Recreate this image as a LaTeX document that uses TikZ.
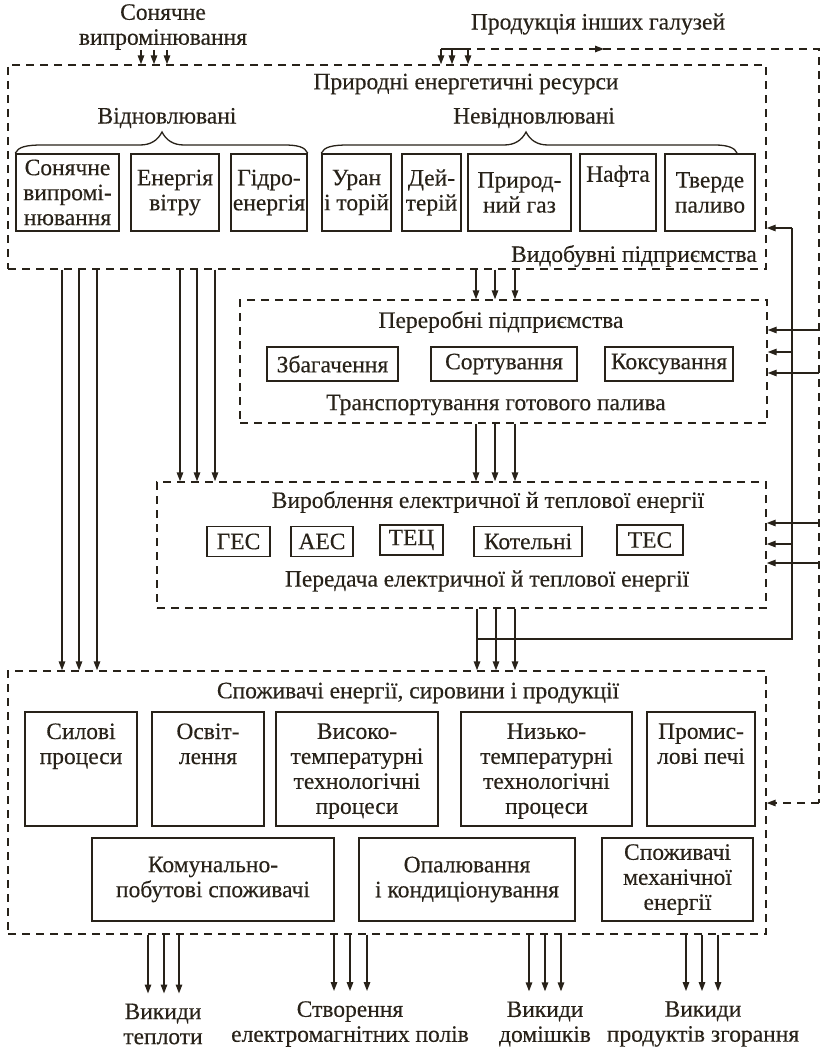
\documentclass[tikz,border=0pt]{standalone}
\usepackage{fontspec}
\setmainfont[FakeBold=0.3]{Liberation Serif}
\usetikzlibrary{arrows.meta}
\definecolor{ink}{RGB}{40,34,25}
\begin{document}
\begin{tikzpicture}[x=1pt,y=-1pt,
  font=\fontsize{23.5}{25}\selectfont,
  box/.style={draw=ink, line width=1.5pt, inner sep=0pt, align=center, text=ink},
  cont/.style={draw=ink, line width=1.4pt, dash pattern=on 8pt off 6pt, inner sep=0pt},
  txt/.style={inner sep=0pt, align=center, text=ink},
  lw/.style={draw=ink, line width=1.4pt},
  arr/.style={draw=ink, line width=1.4pt, -{Triangle[length=9pt,width=6.5pt]}},
  darr/.style={arr, dash pattern=on 8pt off 6pt},
]
\useasboundingbox (0,0) rectangle (821,1049);
% containers
\node[cont, minimum width=758pt, minimum height=204pt] (nat) at (387,167) {};
\node[cont, minimum width=527pt, minimum height=123pt] (proc) at (503.5,361.5) {};
\node[cont, minimum width=609pt, minimum height=126pt] (gen) at (461.5,545) {};
\node[cont, minimum width=758pt, minimum height=263pt] (cons) at (387,802.5) {};

% top labels
\node[txt] (sunT) at (163,27) {Сонячне\\випромінювання};
\node[txt] (prodT) at (598,24) {Продукція інших галузей};

% natural resources
\node[txt] (natT) at (466,84) {Природні енергетичні ресурси};
\node[txt] (renT) at (167,118) {Відновлювані};
\node[txt] (nonT) at (534,118) {Невідновлювані};
\node[txt, anchor=east] (minT) at (757,256) {Видобувні підприємства};

\node[box, minimum width=103pt, minimum height=77pt] (sun) at (67.5,192.5) {Сонячне\\випромі-\\нювання};
\node[box, minimum width=88pt, minimum height=77pt] (wind) at (175,192.5) {Енергія\\вітру};
\node[box, minimum width=76pt, minimum height=77pt] (hydro) at (269,192.5) {Гідро-\\енергія};
\node[box, minimum width=69pt, minimum height=77pt] (uran) at (356.5,192.5) {Уран\\і торій};
\node[box, minimum width=59pt, minimum height=77pt] (deut) at (431.5,192.5) {Дей-\\терій};
\node[box, minimum width=103pt, minimum height=77pt] (gas) at (519.5,192.5) {Природ-\\ний газ};
\node[box, minimum width=76pt, minimum height=77pt] (oil) at (618,192.5) {};
\node[txt, anchor=north, yshift=-12pt] (oilT) at (oil.north) {Нафта};
\node[box, minimum width=90pt, minimum height=77pt] (coal) at (710,192.5) {Тверде\\паливо};

% braces
\draw[lw, line width=1.3pt] (sun.north west) .. controls (18,147) and (26,145) .. (42,145) -- (140,145)
  .. controls (151,145) and (158,140) .. (162,132) .. controls (166,140) and (173,145) .. (184,145)
  -- (284,145) .. controls (298,145) and (305,147) .. (hydro.north east);
\draw[lw, line width=1.3pt] (uran.north west) .. controls (324,147) and (332,145) .. (348,145) -- (504,145)
  .. controls (515,145) and (522,140) .. (526,132) .. controls (530,140) and (537,145) .. (548,145)
  -- (715,145) .. controls (728,145) and (735,148) .. (737,153);

% processing
\node[txt] (procT) at (501,322) {Переробні підприємства};
\node[box, minimum width=131pt, minimum height=34pt] (enr) at (332.5,364) {Збагачення};
\node[box, minimum width=146pt, minimum height=34pt] (sort) at (504,364) {Сортування};
\node[box, minimum width=128pt, minimum height=34pt] (coke) at (669,364) {Коксування};
\node[txt] (trT) at (496,405) {Транспортування готового палива};

% generation
\node[txt] (genT) at (488,502) {Вироблення електричної й теплової енергії};
\node[box, minimum width=63pt, minimum height=30pt] (ges) at (238.5,541.5) {ГЕС};
\node[box, minimum width=62pt, minimum height=30pt] (aes) at (322,541.5) {АЕС};
\node[box, minimum width=63pt, minimum height=30pt] (tec) at (411.5,540) {ТЕЦ};
\node[box, minimum width=108pt, minimum height=30pt] (kot) at (528,541.5) {Котельні};
\node[box, minimum width=66pt, minimum height=30pt] (tes) at (650,540) {ТЕС};
\node[txt] (trnT) at (487,581) {Передача електричної й теплової енергії};

% consumers
\node[txt] (consT) at (418,693) {Споживачі енергії, сировини і продукції};
\node[box, minimum width=112pt, minimum height=114pt] (sil) at (81,769) {};
\node[box, minimum width=112pt, minimum height=114pt] (osv) at (208,769) {};
\node[box, minimum width=162pt, minimum height=114pt] (vys) at (357,769) {};
\node[box, minimum width=171pt, minimum height=114pt] (nyz) at (546.5,769) {};
\node[box, minimum width=108pt, minimum height=114pt] (pech) at (701,769) {};
\node[txt, anchor=north, yshift=-12pt] (silT) at (sil.north) {Силові\\процеси};
\node[txt, anchor=north, yshift=-12pt] (osvT) at (osv.north) {Освіт-\\лення};
\node[txt, anchor=north, yshift=-12pt] (vysT) at (vys.north) {Високо-\\температурні\\технологічні\\процеси};
\node[txt, anchor=north, yshift=-12pt] (nyzT) at (nyz.north) {Низько-\\температурні\\технологічні\\процеси};
\node[txt, anchor=north, yshift=-12pt] (pechT) at (pech.north) {Промис-\\лові печі};
\node[box, minimum width=242pt, minimum height=83pt] (kom) at (213,879.5) {Комунально-\\побутові споживачі};
\node[box, minimum width=216pt, minimum height=83pt] (opal) at (467,879.5) {Опалювання\\і кондиціонування};
\node[box, minimum width=151pt, minimum height=83pt] (mech) at (677.5,879.5) {Споживачі\\механічної\\енергії};

% outputs
\node[txt] (o1) at (163,1024) {Викиди\\теплоти};
\node[txt] (o2) at (350,1024) {Створення\\електромагнітних полів};
\node[txt] (o3) at (545,1024) {Викиди\\домішків};
\node[txt] (o4) at (703,1024) {Викиди\\продуктів згорання};

% sun arrows
\foreach \x in {141,154,167} \draw[arr] (sunT.south -| \x,0) -- (\x,0 |- nat.north);

% products of other industries
\coordinate (pl) at (441,49);
\coordinate (pr) at (468,49);
\coordinate (tr) at (819,49);
\coordinate (br) at (819,803);
\draw[lw] (pl) -- (pr);
\foreach \x in {441,452,468} \draw[arr] (\x,49) -- (\x,0 |- nat.north);
\draw[lw, dash pattern=on 8pt off 6pt, dash phase=-9pt] (pr) -- (tr) -- (br);
\draw[darr] (br) -- (cons.east |- br);
\draw[ink, -{Triangle[length=9pt,width=6.5pt]}, line width=1.4pt] (592,49) -- (604,49);
\foreach \y in {330,373} \draw[arr] (tr |- 0,\y) -- (proc.east |- 0,\y);
\foreach \y in {523,563} \draw[arr] (tr |- 0,\y) -- (gen.east |- 0,\y);

% feedback loop
\coordinate (lp) at (477,639);
\coordinate (lr) at (792,639);
\coordinate (lt) at (792,228);
\draw[lw] (lp) -- (lr) -- (lt);
\draw[arr] (lt) -- (nat.east |- lt);
\draw[arr] (lr |- 0,352) -- (proc.east |- 0,352);
\draw[arr] (lr |- 0,544) -- (gen.east |- 0,544);

% main flows
\foreach \x in {62,79,97} \draw[arr] (\x,0 |- nat.south) -- (\x,0 |- cons.north);
\foreach \x in {180,197,215} \draw[arr] (\x,0 |- nat.south) -- (\x,0 |- gen.north);
\foreach \x in {476,495,515} \draw[arr] (\x,0 |- nat.south) -- (\x,0 |- proc.north);
\foreach \x in {476,495,515} \draw[arr] (\x,0 |- proc.south) -- (\x,0 |- gen.north);
\foreach \x in {477,496,515} \draw[arr] (\x,0 |- gen.south) -- (\x,0 |- cons.north);

% outputs arrows
\foreach \x in {148,164,179} \draw[arr, shorten >=10pt] (\x,0 |- cons.south) -- (\x,0 |- o1.north);
\foreach \x in {334,350,367} \draw[arr, shorten >=10pt] (\x,0 |- cons.south) -- (\x,0 |- o2.north);
\foreach \x in {529,545,561} \draw[arr, shorten >=10pt] (\x,0 |- cons.south) -- (\x,0 |- o3.north);
\foreach \x in {686,702,718} \draw[arr, shorten >=10pt] (\x,0 |- cons.south) -- (\x,0 |- o4.north);
\end{tikzpicture}
\end{document}
